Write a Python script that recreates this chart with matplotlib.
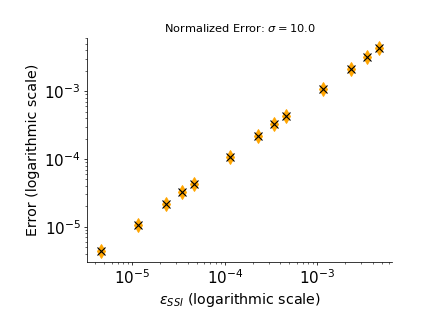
import numpy as np
import matplotlib
matplotlib.use('Agg')
import matplotlib.pyplot as plt

# values
eps_ssi = [4.6e-6, 1.15e-5, 2.3e-5, 3.45e-5, 4.6e-5, 1.15e-4, 2.3e-4, 3.45e-4, 4.6e-4,
           1.15e-3, 2.3e-3, 3.45e-3, 4.6e-3]
error = [4.35e-6, 1.08e-5, 2.17e-5, 3.24e-5, 4.33e-5, 1.08e-4, 2.16e-4, 3.23e-4, 4.32e-4,
         1.07e-3, 2.15e-3, 3.2e-3, 4.3e-3]
sigma = 10.0

fig = plt.figure(figsize=(6.4, 4.8), dpi=68.125)
ax = fig.add_subplot(111)
fig.subplots_adjust(left=0.2, right=0.9, bottom=0.2, top=0.884)

ax.plot(eps_ssi, error, linestyle='none', marker='d', color='orange', markersize=10)
ax.plot(eps_ssi, error, linestyle='none', marker='x', color='black', markersize=8, markeredgewidth=1.2)

ax.set_xscale('log')
ax.set_yscale('log')
ax.spines['top'].set_visible(False)
ax.spines['right'].set_visible(False)

ax.set_title(r'Normalized Error: $\sigma = %.1f$' % sigma, fontsize=12)
ax.set_xlabel(r'$\epsilon_{SSI}$ (logarithmic scale)', fontsize=15)
ax.set_ylabel('Error (logarithmic scale)', fontsize=15)
ax.tick_params(axis='both', which='major', labelsize=16)

fig.savefig('out.png', dpi=68.125)
